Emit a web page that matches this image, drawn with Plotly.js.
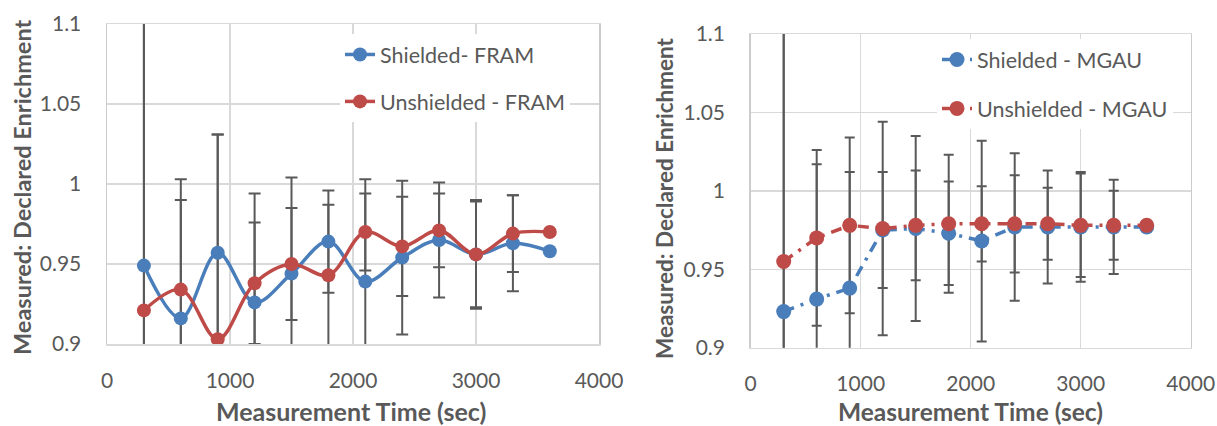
<!DOCTYPE html>
<html>
<head>
<meta charset="utf-8">
<script src="https://cdn.plot.ly/plotly-3.0.1.min.js"></script>
<style>
  html, body { margin: 0; padding: 0; background: #ffffff; }
  #chart { width: 1217px; height: 426px; }
</style>
</head>
<body>
<div id="chart"></div>
<script>
// ---- data ----
var measurementTimes = [300, 600, 900, 1200, 1500, 1800, 2100, 2400, 2700, 3000, 3300, 3600];

var framShielded      = [0.949, 0.916, 0.957, 0.926, 0.944, 0.964, 0.939, 0.954, 0.965, 0.956, 0.963, 0.958];
var framShieldedErr   = [0.200, 0.087, 0.074, 0.068, 0.060, 0.032, 0.064, 0.048, 0.036, 0.034, 0.030, null];
var framUnshielded    = [0.921, 0.934, 0.903, 0.938, 0.950, 0.943, 0.970, 0.961, 0.971, 0.956, 0.969, 0.970];
var framUnshieldedErr = [0.200, 0.056, 0.128, 0.038, 0.035, 0.044, 0.024, 0.031, 0.023, 0.033, 0.024, null];

var mgauShielded      = [0.923, 0.931, 0.938, 0.975, 0.976, 0.973, 0.968, 0.977, 0.977, 0.977, 0.977, 0.977];
var mgauShieldedErr   = [0.200, 0.086, 0.074, 0.037, 0.059, 0.033, 0.064, 0.047, 0.036, 0.035, 0.030, null];
var mgauUnshielded    = [0.955, 0.970, 0.978, 0.976, 0.978, 0.979, 0.979, 0.979, 0.979, 0.978, 0.978, 0.978];
var mgauUnshieldedErr = [0.200, 0.056, 0.056, 0.068, 0.035, 0.044, 0.024, 0.031, 0.023, 0.033, 0.022, null];

var seriesNames = ["Shielded- FRAM", "Unshielded - FRAM", "Shielded - MGAU", "Unshielded - MGAU"];
var yTickVals = [0.9, 0.95, 1, 1.05, 1.1];
var yTickText = ["0.9", "0.95", "1", "1.05", "1.1"];
var xTickVals = [0, 1000, 2000, 3000, 4000];
var xTickText = ["0", "1000", "2000", "3000", "4000"];
var xTitle = "Measurement Time (sec)";
var yTitle = "Measured: Declared Enrichment";

// ---- styling ----
var BLUE = "#4a7ebb", RED = "#be4b48", ERR = "#595959", TXT = "#595959";
var FONT = "Lato, 'Open Sans', sans-serif";

function errTrace(y, err, xa, ya, thick, w) {
  return {
    x: measurementTimes, y: y, xaxis: xa, yaxis: ya, type: "scatter", mode: "markers",
    marker: {size: 1, opacity: 0}, showlegend: false, hoverinfo: "skip",
    error_y: {type: "data", array: err, visible: true, color: ERR, thickness: thick, width: w}
  };
}
function seriesTrace(y, name, color, xa, ya, lineOpts, msize, legend, group) {
  return {
    x: measurementTimes, y: y, name: name, xaxis: xa, yaxis: ya, type: "scatter",
    mode: "lines+markers", line: Object.assign({color: color}, lineOpts),
    marker: {color: color, size: msize}, legend: legend, legendgroup: group
  };
}

var data = [
  errTrace(framShielded, framShieldedErr, "x", "y", 2, 6),
  errTrace(framUnshielded, framUnshieldedErr, "x", "y", 2, 6),
  errTrace(mgauShielded, mgauShieldedErr, "x2", "y2", 2, 5),
  errTrace(mgauUnshielded, mgauUnshieldedErr, "x2", "y2", 2, 5),
  seriesTrace(framShielded, seriesNames[0], BLUE, "x", "y", {width: 3.5, shape: "spline", smoothing: 1}, 14, "legend", "a"),
  seriesTrace(framUnshielded, seriesNames[1], RED, "x", "y", {width: 3.5, shape: "spline", smoothing: 1}, 14, "legend", "b"),
  seriesTrace(mgauShielded, seriesNames[2], BLUE, "x2", "y2", {width: 3.5, dash: "11px,7px,3px,7px"}, 15, "legend2", "c"),
  seriesTrace(mgauUnshielded, seriesNames[3], RED, "x2", "y2", {width: 3.5, dash: "11px,7px,3px,7px"}, 15, "legend2", "d")
];

var W = 1217, H = 426;
function xAxis(domain) {
  return {
    domain: domain, range: [0, 4000], tickvals: xTickVals, ticktext: xTickText,
    showgrid: true, gridcolor: "#d9d9d9", gridwidth: 1.5, zeroline: false,
    showline: true, linecolor: "#d9d9d9", linewidth: 1.5, mirror: true,
    ticks: "", ticklabelstandoff: 17, tickfont: {family: FONT, size: 21, color: TXT}, fixedrange: true
  };
}
function yAxis(domain, anchor) {
  return {
    domain: domain, range: [0.9, 1.1], tickvals: yTickVals, ticktext: yTickText, anchor: anchor,
    showgrid: true, gridcolor: "#d9d9d9", gridwidth: 1.5, zeroline: false,
    showline: true, linecolor: "#cccccc", linewidth: 1.5, mirror: true,
    ticks: "", ticklabelstandoff: 20, tickfont: {family: FONT, size: 21, color: TXT}, fixedrange: true
  };
}

var layout = {
  width: W, height: H,
  margin: {l: 0, r: 0, t: 0, b: 0, pad: 0},
  paper_bgcolor: "#ffffff", plot_bgcolor: "#ffffff",
  font: {family: FONT, color: TXT},
  xaxis: Object.assign(xAxis([107 / W, 599 / W]), {anchor: "y"}),
  yaxis: yAxis([1 - 344 / H, 1 - 24 / H], "x"),
  xaxis2: Object.assign(xAxis([750.7 / W, 1190.7 / W]), {anchor: "y2"}),
  yaxis2: yAxis([1 - 347.7 / H, 1 - 34 / H], "x2"),
  legend: {
    x: 340 / W, y: 1 - 34 / H, xanchor: "left", yanchor: "top",
    bgcolor: "#ffffff", borderwidth: 0, traceorder: "grouped", tracegroupgap: 16,
    font: {family: FONT, size: 21.5, color: TXT}
  },
  legend2: {
    x: 937 / W, y: 1 - 39 / H, xanchor: "left", yanchor: "top",
    bgcolor: "#ffffff", borderwidth: 0, traceorder: "grouped", tracegroupgap: 18,
    font: {family: FONT, size: 21.5, color: TXT}
  },
  annotations: [
    {text: xTitle, xref: "paper", yref: "paper", x: 351 / W, y: 1 - 411 / H, xanchor: "center", yanchor: "middle",
     showarrow: false, font: {family: FONT, size: 25, color: TXT, weight: "bold"}},
    {text: xTitle, xref: "paper", yref: "paper", x: 970 / W, y: 1 - 411 / H, xanchor: "center", yanchor: "middle",
     showarrow: false, font: {family: FONT, size: 24.5, color: TXT, weight: "bold"}},
    {text: yTitle, xref: "paper", yref: "paper", x: 22 / W, y: 1 - 188 / H, xanchor: "center", yanchor: "middle",
     textangle: -90, showarrow: false, font: {family: FONT, size: 23.5, color: TXT, weight: "bold"}},
    {text: yTitle, xref: "paper", yref: "paper", x: 664 / W, y: 1 - 198 / H, xanchor: "center", yanchor: "middle",
     textangle: -90, showarrow: false, font: {family: FONT, size: 22.5, color: TXT, weight: "bold"}}
  ],
  showlegend: true
};

Plotly.newPlot("chart", data, layout, {staticPlot: true, displayModeBar: false});
</script>
</body>
</html>
